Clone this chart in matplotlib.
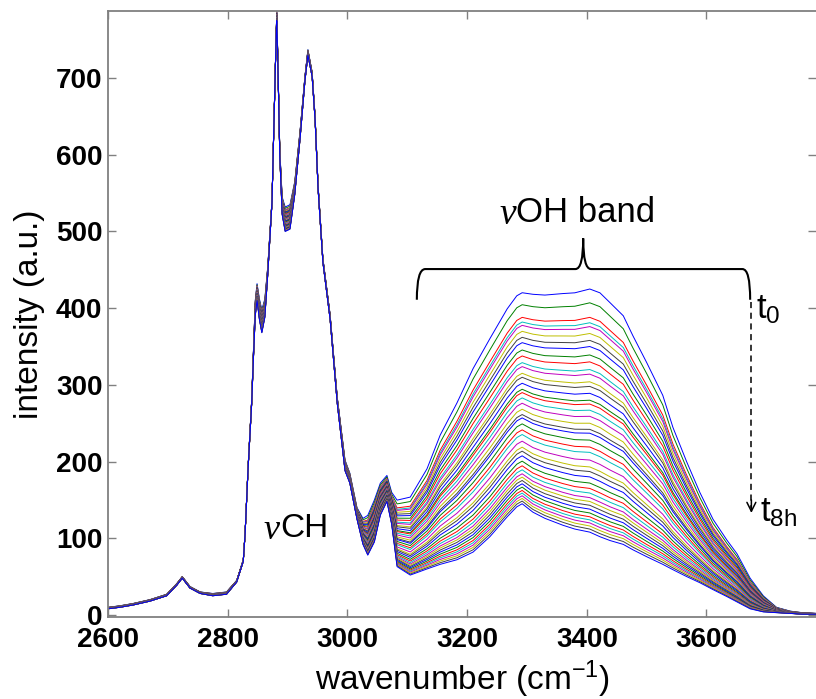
import numpy as np
import matplotlib
matplotlib.use("Agg")
import matplotlib.pyplot as plt
from matplotlib.path import Path
from matplotlib.patches import PathPatch

# ---------------- data ----------------
wavenumber = [2600, 2620, 2642, 2670, 2698, 2715, 2724, 2737, 2754, 2775, 2798,
              2815, 2826, 2829, 2834, 2840, 2843, 2846, 2849, 2853, 2857, 2862,
              2867, 2874, 2877, 2881, 2882, 2884, 2887, 2891, 2896, 2904, 2912,
              2921, 2929, 2934, 2941, 2946, 2951, 2959, 2971, 2983, 2996, 3004,
              3016, 3026, 3034, 3045, 3055, 3066, 3074, 3083, 3105, 3133, 3155,
              3183, 3210, 3238, 3267, 3283, 3292, 3310, 3330, 3360, 3380, 3405,
              3422, 3439, 3461, 3477, 3500, 3527, 3544, 3567, 3589, 3611, 3634,
              3651, 3673, 3695, 3717, 3740, 3760, 3785]

# first spectrum (t0)
t0_profile = [10, 12, 15, 20, 27, 41, 50, 37, 30, 28, 30,
              45, 72, 107, 193, 280, 345, 410, 432, 412, 398, 412,
              455, 541, 636, 759, 787, 715, 606, 545, 532, 535, 565,
              632, 702, 737, 708, 650, 560, 465, 392, 284, 202, 185,
              140, 126, 130, 150, 172, 182, 160, 150, 154, 191, 235,
              277, 322, 361, 400, 417, 421, 419, 418, 420, 421, 426,
              421, 408, 391, 365, 330, 287, 245, 200, 160, 125, 98,
              80, 48, 25, 10, 5, 3, 2]

# last spectrum (t8h)
t8h_profile = [8, 10, 13, 18, 25, 39, 48, 35, 28, 25, 27,
               43, 70, 105, 190, 275, 335, 390, 410, 385, 368, 388,
               445, 538, 632, 755, 775, 710, 598, 522, 500, 503, 548,
               622, 696, 730, 702, 645, 555, 460, 386, 276, 188, 172,
               125, 92, 78, 95, 130, 148, 118, 63, 52, 60, 66,
               72, 82, 102, 128, 141, 145, 134, 126, 117, 112, 108,
               102, 97, 92, 85, 76, 66, 59, 50, 42, 33, 24,
               17, 8, 4, 3, 2, 1, 1]

# intensity of every spectrum at 3405 cm-1 (t0 ... t8h)
level_3405 = [425, 407, 388, 381, 376, 367, 358, 350, 339, 330, 320, 314, 304,
              298, 289, 280, 275, 267, 259, 250, 242, 237, 228, 219, 212, 202,
              193, 187, 180, 172, 165, 159, 153, 148, 143, 138, 133, 128, 124,
              120, 116, 112, 108]
ref_wavenumber = 3405

x_ticks = [2600, 2800, 3000, 3200, 3400, 3600]
y_ticks = [0, 100, 200, 300, 400, 500, 600, 700]

# MATLAB classic colour order
colors = ["#0000ff", "#008000", "#ff0000", "#00bfbf", "#bf00bf", "#bfbf00", "#404040"]

# ---------------- figure ----------------
plt.rcParams["font.family"] = ["Liberation Sans", "DejaVu Sans"]
plt.rcParams["mathtext.default"] = "regular"

fig = plt.figure(figsize=(8.16, 6.99), dpi=100)
ax = fig.add_axes([0.1324, 0.1166, 0.8676, 0.8677])

wn = np.array(wavenumber, dtype=float)
top = np.array(t0_profile, dtype=float)
bot = np.array(t8h_profile, dtype=float)
k = wavenumber.index(ref_wavenumber)
for i, lev in enumerate(level_3405):
    f = (lev - bot[k]) / (top[k] - bot[k])
    ax.plot(wn, bot + f * (top - bot), color=colors[i % len(colors)], lw=0.7)

ax.set_xlim(2600, 3783)
ax.set_ylim(-3.3, 787.5)
ax.set_xticks(x_ticks)
ax.set_yticks(y_ticks)
ax.tick_params(direction="in", length=6, width=1, color="#808080",
               top=True, right=True, labelsize=20)
ax.tick_params(axis="x", pad=7)
ax.tick_params(axis="y", pad=4)
for lab in ax.get_xticklabels() + ax.get_yticklabels():
    lab.set_fontweight("bold")
for side in ["top", "bottom", "left"]:
    ax.spines[side].set_color("#808080")
    ax.spines[side].set_linewidth(1.3)
ax.spines["right"].set_visible(False)

ax.set_xlabel("wavenumber (cm$^{-1}$)", fontsize=24, labelpad=4)
ax.set_ylabel("intensity (a.u.)", fontsize=24, labelpad=8)

# annotations
ax.text(2887, 113, "CH", fontsize=24, ha="left", va="center")
ax.text(2887, 110, "\u03bd", fontsize=26, ha="right", va="center",
        family="Liberation Serif", style="italic")
ax.text(3282, 525, "OH band", fontsize=25, ha="left", va="center")
ax.text(3282, 522, "\u03bd", fontsize=27, ha="right", va="center",
        family="Liberation Serif", style="italic")

# curly bracket over the OH band
yb, yh, ytip = 411, 451, 491
verts = [(3116, yb), (3116, yh), (3130, yh),
         (3381, yh),
         (3394, yh), (3394, ytip),
         (3394, yh), (3407, yh),
         (3660, yh),
         (3673, yh), (3673, yb)]
codes = [Path.MOVETO, Path.CURVE3, Path.CURVE3,
         Path.LINETO,
         Path.CURVE3, Path.CURVE3,
         Path.CURVE3, Path.CURVE3,
         Path.LINETO,
         Path.CURVE3, Path.CURVE3]
ax.add_patch(PathPatch(Path(verts, codes), fill=False, lw=1.5, color="black"))

# dashed time arrow
ax.plot([3675, 3675], [408, 140], ls=(0, (4, 3)), color="black", lw=1.1)
ax.annotate("", xy=(3675, 133), xytext=(3675, 150),
            arrowprops=dict(arrowstyle="->", color="black", lw=1.1,
                            mutation_scale=16, shrinkA=0, shrinkB=0))
ax.text(3683, 398, "t$_0$", fontsize=25, ha="left", va="center")
ax.text(3690, 133, "t$_{8h}$", fontsize=25, ha="left", va="center")

fig.savefig("out.png", dpi=100)
